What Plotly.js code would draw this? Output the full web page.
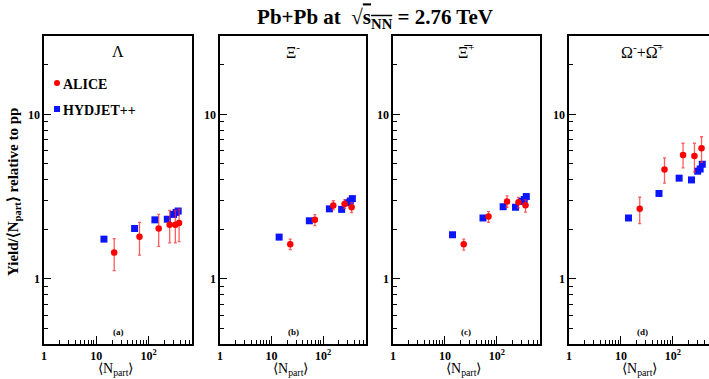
<!DOCTYPE html>
<html>
<head>
<meta charset="utf-8">
<script src="https://cdn.plot.ly/plotly-3.0.1.min.js"></script>
<style>
html,body{margin:0;padding:0;overflow:hidden;background:#fff;}
#chart{width:730px;height:379px;}
</style>
</head>
<body>
<div id="chart"></div>
<script>
// ---------- data ----------
const panelTitles = ["Λ", "Ξ<sup>-</sup>", "Ξ\u0305<sup>+</sup>", "Ω<sup>-</sup>+Ω\u0305<sup>+</sup>"];
const panelTags = ["(a)", "(b)", "(c)", "(d)"];

// HYDJET++ (blue squares)
const hydNpart = [14, 54, 132, 228, 300, 335, 368];
const hydLambda = [1.74, 2.02, 2.28, 2.30, 2.46, 2.53, 2.58];
const hydXi = [1.79, 2.25, 2.66, 2.64, 2.90, 2.97, 3.07];
const hydXiBar = [1.85, 2.34, 2.74, 2.72, 2.95, 3.03, 3.16];
const hydOmega = [2.34, 3.30, 4.09, 3.99, 4.51, 4.65, 4.97];

// ALICE (red circles) with low/high error-bar ends
const aliceNpartLambda = [22, 67, 156, 253, 325, 383];
const aliceLambda = [1.44, 1.80, 2.02, 2.13, 2.13, 2.18];
const aliceLambdaHi = [1.75, 2.20, 2.46, 2.60, 2.60, 2.65];
const aliceLambdaLo = [1.12, 1.39, 1.57, 1.65, 1.65, 1.68];

const aliceNpart = [23, 69, 157, 260, 356];
const aliceXi = [1.62, 2.28, 2.79, 2.85, 2.72];
const aliceXiHi = [1.74, 2.45, 2.98, 3.02, 2.90];
const aliceXiLo = [1.50, 2.10, 2.62, 2.68, 2.52];

const aliceXiBar = [1.62, 2.39, 2.95, 2.92, 2.80];
const aliceXiBarHi = [1.74, 2.56, 3.19, 3.12, 3.02];
const aliceXiBarLo = [1.49, 2.20, 2.72, 2.70, 2.54];

const aliceOmega = [2.66, 4.61, 5.66, 5.58, 6.22];
const aliceOmegaHi = [3.13, 5.43, 6.67, 6.67, 7.31];
const aliceOmegaLo = [2.16, 3.81, 4.72, 4.45, 5.11];

const xTickVals = [1, 10, 100];
const xTickText = ["1", "10", "10<sup>2</sup>"];
const xMinorVals = [2,3,4,5,6,7,8,9,20,30,40,50,60,70,80,90,200,300,400,500,600];
const yTickVals = [1, 10];
const yTickText = ["1", "10"];
const yMinorVals = [0.5,0.6,0.7,0.8,0.9,2,3,4,5,6,7,8,9,20];

// ---------- layout geometry ----------
const W = 730, H = 379;
const panelPx = [[44,192],[220,366],[393,540],[569,716]];
const yTopPx = 36, yBotPx = 344;
const serif = "'Liberation Serif', 'Times New Roman', serif";

const panels = [
  {hy: hydLambda, ax: aliceNpartLambda, ay: aliceLambda, hi: aliceLambdaHi, lo: aliceLambdaLo},
  {hy: hydXi, ax: aliceNpart, ay: aliceXi, hi: aliceXiHi, lo: aliceXiLo},
  {hy: hydXiBar, ax: aliceNpart, ay: aliceXiBar, hi: aliceXiBarHi, lo: aliceXiBarLo},
  {hy: hydOmega, ax: aliceNpart, ay: aliceOmega, hi: aliceOmegaHi, lo: aliceOmegaLo}
];

const traces = [];
const layout = {
  width: W, height: H,
  margin: {l:0, r:0, t:0, b:0},
  paper_bgcolor: "#fff", plot_bgcolor: "#fff",
  showlegend: false,
  font: {family: serif, color: "#000"},
  title: {
    text: "<b>Pb+Pb at  √<span style='text-decoration:overline'>s<sub>NN</sub></span> = 2.76 TeV</b>",
    font: {family: serif, size: 21, color: "#000"},
    x: 375 / W, xref: "paper", xanchor: "center",
    y: 1 - 17 / H, yref: "container", yanchor: "middle"
  },
  annotations: [],
  shapes: []
};

panels.forEach((p, i) => {
  const n = i === 0 ? "" : String(i + 1);
  const xa = "x" + n, ya = "y" + n;
  traces.push({
    x: hydNpart, y: p.hy, xaxis: xa, yaxis: ya, type: "scatter", mode: "markers",
    name: "HYDJET++", marker: {symbol: "square", size: 7, color: "#0a14ff"}
  });
  traces.push({
    x: p.ax, y: p.ay, xaxis: xa, yaxis: ya, type: "scatter", mode: "markers",
    name: "ALICE", marker: {symbol: "circle", size: 6.5, color: "#ff0000"},
    error_y: {
      type: "data", symmetric: false,
      array: p.hi.map((h, k) => h - p.ay[k]),
      arrayminus: p.lo.map((l, k) => p.ay[k] - l),
      color: "rgba(255,40,40,0.75)", thickness: 1.3, width: 1.5
    }
  });
  const d0 = panelPx[i][0] / W, d1 = panelPx[i][1] / W;
  layout["xaxis" + n] = {
    type: "log", range: [0, 2.83], domain: [d0, d1], anchor: ya,
    showgrid: false, zeroline: false,
    showline: true, linecolor: "#000", linewidth: 1.6, mirror: true,
    ticks: "inside", ticklen: 8, tickwidth: 1, tickcolor: "#000",
    tickmode: "array", tickvals: xTickVals, ticktext: xTickText,
    tickfont: {family: serif, size: 12, color: "#000", weight: "bold"},
    minor: {tickmode: "array", tickvals: xMinorVals, ticks: "inside", ticklen: 4, tickwidth: 1, tickcolor: "#000", showgrid: false}
  };
  layout["yaxis" + n] = {
    type: "log", range: [Math.log10(0.4), Math.log10(30)],
    domain: [1 - yBotPx / H, 1 - yTopPx / H], anchor: xa,
    showgrid: false, zeroline: false,
    showline: true, linecolor: "#000", linewidth: 1.6, mirror: true,
    ticks: "inside", ticklen: 7, tickwidth: 1, tickcolor: "#000",
    tickmode: "array", tickvals: yTickVals, ticktext: yTickText,
    tickfont: {family: serif, size: 12, color: "#000", weight: "bold"},
    minor: {tickmode: "array", tickvals: yMinorVals, ticks: "inside", ticklen: 4, tickwidth: 1, tickcolor: "#000", showgrid: false}
  };
  const cx = (panelPx[i][0] + panelPx[i][1]) / 2 / W;
  // panel title
  layout.annotations.push({
    text: panelTitles[i], xref: "paper", yref: "paper", x: cx, y: 1 - 51 / H,
    xanchor: "center", yanchor: "middle", showarrow: false,
    font: {family: serif, size: 16, color: "#000"}
  });
  // panel tag
  layout.annotations.push({
    text: "<b>" + panelTags[i] + "</b>", xref: "paper", yref: "paper", x: cx, y: 1 - 332 / H,
    xanchor: "center", yanchor: "middle", showarrow: false,
    font: {family: serif, size: 9, color: "#000"}
  });
  // x-axis title
  layout.annotations.push({
    text: "⟨N<sub>part</sub>⟩", xref: "paper", yref: "paper", x: cx - 3 / W, y: 1 - 369 / H,
    xanchor: "center", yanchor: "middle", showarrow: false,
    font: {family: serif, size: 14, color: "#000"}
  });
});

// y-axis title
layout.annotations.push({
  text: "<b>Yield/⟨N<sub>part</sub>⟩ relative to pp</b>", xref: "paper", yref: "paper",
  x: 14 / W, y: 1 - 192 / H, xanchor: "center", yanchor: "middle", textangle: -90,
  showarrow: false, font: {family: serif, size: 15, color: "#000"}
});

// legend (inside panel a)
layout.shapes.push({type: "circle", xref: "paper", yref: "paper",
  x0: 54 / W, x1: 60 / W, y0: 1 - 86 / H, y1: 1 - 80 / H,
  fillcolor: "#ff0000", line: {width: 0}});
layout.shapes.push({type: "rect", xref: "paper", yref: "paper",
  x0: 54 / W, x1: 60 / W, y0: 1 - 112 / H, y1: 1 - 106 / H,
  fillcolor: "#0a14ff", line: {width: 0}});
layout.annotations.push({
  text: "<b>ALICE</b>", xref: "paper", yref: "paper", x: 61 / W, y: 1 - 84 / H,
  xanchor: "left", yanchor: "middle", showarrow: false,
  font: {family: serif, size: 14, color: "#000"}
});
layout.annotations.push({
  text: "<b>HYDJET++</b>", xref: "paper", yref: "paper", x: 61 / W, y: 1 - 110 / H,
  xanchor: "left", yanchor: "middle", showarrow: false,
  font: {family: serif, size: 14, color: "#000"}
});

Plotly.newPlot("chart", traces, layout, {staticPlot: true, displayModeBar: false});
</script>
</body>
</html>
